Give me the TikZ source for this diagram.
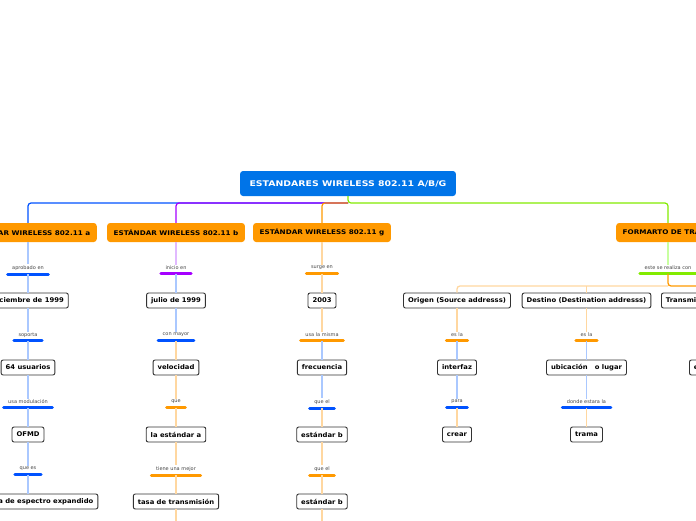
\documentclass[tikz,border=0pt]{standalone}
\usepackage{fontspec}
\setmainfont{DejaVu Sans}
\newfontfamily\rootfont[FakeStretch=1.2]{DejaVu Sans}
\newfontfamily\branchfont[FakeStretch=1.13]{DejaVu Sans}
\newfontfamily\itemfont[FakeStretch=1.05]{DejaVu Sans}
\definecolor{rootblue}{RGB}{0,116,232}
\definecolor{orng}{RGB}{255,153,0}
\definecolor{bblue}{RGB}{0,82,255}
\definecolor{lblue}{RGB}{170,200,255}
\definecolor{purp}{RGB}{165,0,255}
\definecolor{lpurp}{RGB}{225,185,255}
\definecolor{lorng}{RGB}{255,215,160}
\definecolor{grn}{RGB}{130,235,0}
\definecolor{lgrn}{RGB}{200,255,160}
\definecolor{bordergray}{RGB}{50,50,50}
\definecolor{labgray}{RGB}{70,70,70}
\newcommand\mindbar[2]{%
  \draw[#2,line width=3pt,line cap=round] ([yshift=-2.5pt]#1.south west) -- ([yshift=-2.5pt]#1.south east);
  \coordinate (#1b) at ([yshift=-2.5pt]#1.south);}
\begin{document}
\begin{tikzpicture}[x=1pt,y=-1pt,
  rootbox/.style={fill=rootblue,rounded corners=3pt,text=white,font=\fontsize{7.8}{9}\rootfont\bfseries,minimum height=25pt,inner xsep=9.5pt},
  branchbox/.style={fill=orng,rounded corners=3pt,text=black,font=\fontsize{6.4}{8}\branchfont\bfseries,minimum height=19pt,inner xsep=6.5pt},
  itembox/.style={draw=bordergray,line width=0.9pt,fill=white,rounded corners=2pt,text=black,font=\fontsize{6.5}{8}\itemfont\bfseries,minimum height=15pt,inner xsep=4.5pt},
  lab/.style={font=\fontsize{5}{6}\selectfont,text=labgray,inner xsep=4.5pt,inner ysep=1pt},
  conn/.style={line width=1.3pt},
  rootconn/.style={line width=1.2pt,rounded corners=3pt}]
\useasboundingbox (0,0) rectangle (696,520);
\clip (0,0) rectangle (696,520);

% root and branches
\node[rootbox] (root) at (348,183.5) {ESTANDARES WIRELESS 802.11 A/B/G};
\node[branchbox] (ba) at (28,232.5) {ESTÁNDAR WIRELESS 802.11 a};
\node[branchbox] (bb) at (176,232.5) {ESTÁNDAR WIRELESS 802.11 b};
\node[branchbox] (bg) at (322,232.5) {ESTÁNDAR WIRELESS 802.11 g};
\node[branchbox] (bf) at (668,232.5) {FORMARTO DE TRAMA};
\coordinate (rj) at (348,203);
\draw[bblue,rootconn] (rj) -| (ba.north);
\draw[purp,rootconn] (rj) -| (bb.north);
\draw[orng,rootconn] (rj) -| (bg.north);
\draw[grn,rootconn] (root.south) -- (rj) -| (bf.north);

% branch a
\node[lab] (la1) at (28,268) {aprobado en};
\node[itembox] (a1) at (28,300.5) {diciembre de 1999};
\node[lab] (la2) at (28,335) {soporta};
\node[itembox] (a2) at (28,367.5) {64 usuarios};
\node[lab] (la3) at (28,402) {usa modulación};
\node[itembox] (a3) at (28,434.5) {OFMD};
\node[lab] (la4) at (28,469) {que es};
\node[itembox] (a4) at (28,501.5) {tecnología de espectro expandido};
\mindbar{la1}{bblue}\mindbar{la2}{bblue}\mindbar{la3}{bblue}\mindbar{la4}{bblue}
\begin{scope}[conn,lblue]
\draw (ba.south) -- (la1.north); \draw (la1b) -- (a1.north);
\draw (a1.south) -- (la2.north); \draw (la2b) -- (a2.north);
\draw (a2.south) -- (la3.north); \draw (la3b) -- (a3.north);
\draw (a3.south) -- (la4.north); \draw (la4b) -- (a4.north);
\end{scope}

% branch b
\node[lab] (lb1) at (176,268) {inicio en};
\node[itembox] (b1) at (176,300.5) {julio de 1999};
\node[lab] (lb2) at (176,335) {con mayor};
\node[itembox] (b2) at (176,367.5) {velocidad};
\node[lab] (lb3) at (176,402) {que};
\node[itembox] (b3) at (176,434.5) {la estándar a};
\node[lab] (lb4) at (176,469) {tiene una mejor};
\node[itembox] (b4) at (176,501.5) {tasa de transmisión};
\coordinate (bend) at (176,522);
\mindbar{lb1}{purp}\mindbar{lb2}{bblue}\mindbar{lb3}{orng}\mindbar{lb4}{orng}
\draw[conn,lpurp] (bb.south) -- (lb1.north);
\draw[conn,lblue] (lb1b) -- (b1.north);
\draw[conn,lblue] (b1.south) -- (lb2.north);
\begin{scope}[conn,lorng]
\draw (lb2b) -- (b2.north);
\draw (b2.south) -- (lb3.north); \draw (lb3b) -- (b3.north);
\draw (b3.south) -- (lb4.north); \draw (lb4b) -- (b4.north);
\draw (b4.south) -- (bend);
\end{scope}

% branch g
\node[lab] (lg1) at (322,268) {surge en};
\node[itembox] (g1) at (322,300.5) {2003};
\node[lab] (lg2) at (322,335) {usa la misma};
\node[itembox] (g2) at (322,367.5) {frecuencia};
\node[lab] (lg3) at (322,402) {que el};
\node[itembox] (g3) at (322,434.5) {estándar b};
\node[lab] (lg4) at (322,469) {que el};
\node[itembox] (g4) at (322,501.5) {estándar b};
\coordinate (gend) at (322,522);
\mindbar{lg1}{orng}\mindbar{lg2}{orng}\mindbar{lg3}{bblue}\mindbar{lg4}{orng}
\draw[conn,lorng] (bg.south) -- (lg1.north);
\draw[conn,lorng] (lg1b) -- (g1.north);
\draw[conn,lorng] (g1.south) -- (lg2.north);
\draw[conn,lblue] (lg2b) -- (g2.north);
\draw[conn,lblue] (g2.south) -- (lg3.north);
\begin{scope}[conn,lorng]
\draw (lg3b) -- (g3.north);
\draw (g3.south) -- (lg4.north); \draw (lg4b) -- (g4.north);
\draw (g4.south) -- (gend);
\end{scope}

% branch formato
\node[lab] (lf1) at (668,268) {este se realiza con};
\mindbar{lf1}{grn}
\draw[conn,lgrn] (bf.south) -- (lf1.north);
\node[itembox] (f1) at (457,300.5) {Origen (Source addresss)};
\node[itembox] (f2) at (586.5,300.5) {Destino (Destination addresss)};
\node[itembox,anchor=west] (f3) at (661,300.5) {Transmisor (Transmitter addresss)};
\coordinate (hj) at (668,286);
\draw[conn,lorng,rounded corners=3pt] (hj) -| (f1.north);
\draw[conn,lorng] (f2.north) -- (f2.north |- hj);
\draw[conn,orng,rounded corners=3pt] (lf1b) -- (hj) -| (f3.north);

\node[lab] (lo1) at (457,335) {es la};
\node[itembox] (o1) at (457,367.5) {interfaz};
\node[lab] (lo2) at (457,402) {para};
\node[itembox] (o2) at (457,434.5) {crear};
\mindbar{lo1}{orng}\mindbar{lo2}{bblue}
\draw[conn,lorng] (f1.south) -- (lo1.north);
\draw[conn,lblue] (lo1b) -- (o1.north);
\draw[conn,lblue] (o1.south) -- (lo2.north);
\draw[conn,lorng] (lo2b) -- (o2.north);

\node[lab] (ld1) at (586.5,335) {es la};
\node[itembox] (d1) at (586.5,367.5) {ubicación~~~o lugar};
\node[lab] (ld2) at (586.5,402) {donde estara la};
\node[itembox] (d2) at (586.5,434.5) {trama};
\mindbar{ld1}{orng}\mindbar{ld2}{bblue}
\draw[conn,lorng] (f2.south) -- (ld1.north);
\draw[conn,lblue] (ld1b) -- (d1.north);
\draw[conn,lblue] (d1.south) -- (ld2.north);
\draw[conn,lorng] (ld2b) -- (d2.north);

\node[itembox,anchor=west] (t1) at (689,367.5) {equipo que transmite};
\draw[conn,lblue] (f3.south) -- (f3.south |- t1.north);
\end{tikzpicture}
\end{document}
